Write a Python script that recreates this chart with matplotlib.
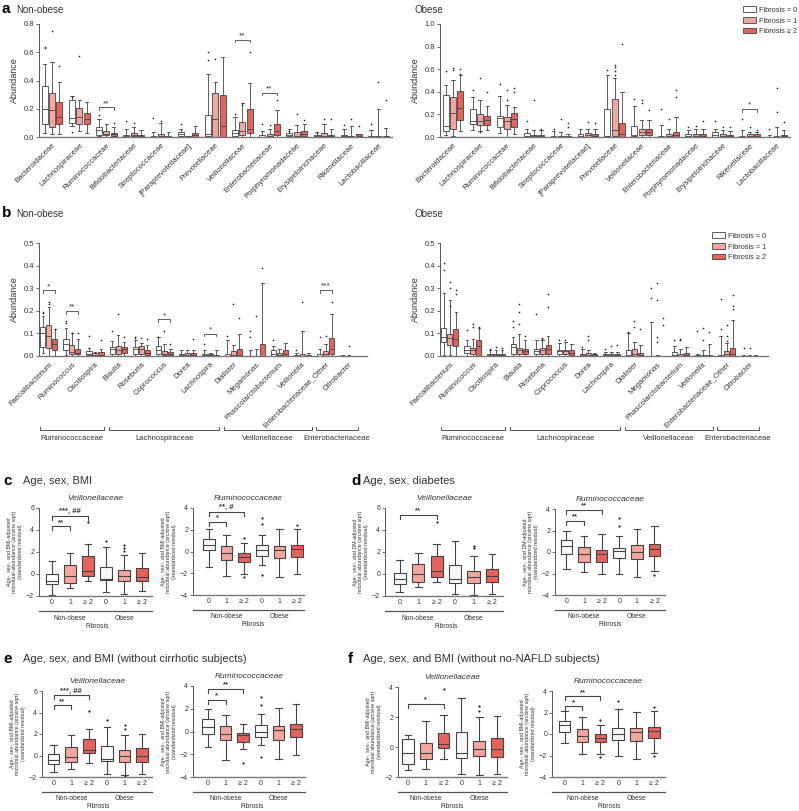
import matplotlib
matplotlib.use("Agg")
import matplotlib.pyplot as plt
from matplotlib.patches import Patch

plt.rcParams['font.family'] = ['Liberation Sans', 'DejaVu Sans']

W, H = 799, 811
C0 = '#ffffff'
C1 = '#f4a59c'
C2 = '#e8625c'
EDGE = '#444444'
TXT = '#333333'

# ---------------- panel a: family abundance (whislo, q1, med, q3, whishi) ----------------
families = ['Bacteroidaceae', 'Lachnospiraceae', 'Ruminococcaceae', 'Bifidobacteriaceae',
            'Streptococcaceae', '[Paraprevotellaceae]', 'Prevotellaceae', 'Veillonellaceae',
            'Enterobacteriaceae', 'Porphyromonadaceae', 'Erysipelotrichaceae', 'Rikenellaceae',
            'Lactobacillaceae']

a_non_f0 = [(0.03, 0.095, 0.20, 0.36, 0.52), (0.075, 0.10, 0.135, 0.26, 0.29),
            (0.005, 0.017, 0.047, 0.07, 0.125), (0.0, 0.0, 0.005, 0.017, 0.06),
            (0.0, 0.0, 0.002, 0.007, 0.035), (0.0, 0.005, 0.02, 0.035, 0.06),
            (0.0, 0.005, 0.024, 0.155, 0.445), (0.0, 0.01, 0.03, 0.05, 0.14),
            (0.0, 0.0, 0.002, 0.012, 0.04), (0.0, 0.007, 0.015, 0.028, 0.055),
            (0.0, 0.0, 0.005, 0.017, 0.035), (0.0, 0.0, 0.005, 0.017, 0.06),
            (0.0, 0.0, 0.0, 0.005, 0.05)]
a_non_f0_out = [[0.64, 0.63], [0.285, 0.035], [0.155], [0.11], [0.135], [0.095], [0.6, 0.545],
                [0.16], [0.09], [0.04], [0.03], [0.085], [0.095]]
a_non_f1 = [(0.02, 0.07, 0.19, 0.31, 0.53), (0.04, 0.095, 0.145, 0.205, 0.26),
            (0.0, 0.012, 0.024, 0.04, 0.095), (0.0, 0.005, 0.015, 0.03, 0.07),
            (0.0, 0.0, 0.005, 0.02, 0.1), (0.0, 0.0, 0.002, 0.005, 0.01),
            (0.0, 0.0, 0.13, 0.31, 0.39), (0.0, 0.012, 0.043, 0.105, 0.24),
            (0.0, 0.0, 0.005, 0.02, 0.055), (0.0, 0.0, 0.01, 0.035, 0.085),
            (0.0, 0.0, 0.01, 0.03, 0.09), (0.0, 0.0, 0.002, 0.005, 0.075),
            (0.0, 0.0, 0.002, 0.005, 0.2)]
a_non_f1_out = [[0.75], [0.57], [], [0.1], [0.11], [], [0.55], [0.23], [0.085], [0.165], [0.13],
                [0.125], [0.39]]
a_non_f2 = [(0.02, 0.095, 0.14, 0.25, 0.39), (0.03, 0.09, 0.125, 0.17, 0.245),
            (0.0, 0.007, 0.02, 0.03, 0.07), (0.0, 0.0, 0.005, 0.017, 0.05),
            (0.0, 0.0, 0.002, 0.005, 0.035), (0.0, 0.0, 0.015, 0.03, 0.075),
            (0.0, 0.0, 0.075, 0.30, 0.565), (0.0, 0.03, 0.06, 0.20, 0.38),
            (0.0, 0.012, 0.04, 0.09, 0.19), (0.0, 0.005, 0.02, 0.04, 0.09),
            (0.0, 0.0, 0.005, 0.017, 0.055), (0.0, 0.0, 0.005, 0.02, 0.02),
            (0.0, 0.0, 0.0, 0.005, 0.065)]
a_non_f2_out = [[0.505], [], [0.1], [], [], [], [], [0.605], [0.26], [0.12], [0.13], [0.075], [0.26]]
a_non_sig = [(2, '**', 0.21), (7, '**', 0.69), (8, '**', 0.315)]

a_ob_f0 = [(0.015, 0.053, 0.095, 0.37, 0.46), (0.065, 0.113, 0.142, 0.25, 0.356),
           (0.035, 0.09, 0.17, 0.19, 0.365), (0.0, 0.0, 0.01, 0.039, 0.074),
           (0.0, 0.0, 0.003, 0.01, 0.053), (0.0, 0.0, 0.01, 0.03, 0.074),
           (0.0, 0.006, 0.01, 0.25, 0.55), (0.0, 0.006, 0.02, 0.095, 0.27),
           (0.0, 0.0, 0.002, 0.006, 0.11), (0.0, 0.0, 0.008, 0.024, 0.06),
           (0.0, 0.0, 0.015, 0.04, 0.074), (0.0, 0.0, 0.002, 0.006, 0.06),
           (0.0, 0.0, 0.0, 0.004, 0.02)]
a_ob_f0_out = [[0.58], [0.42], [0.47], [0.14], [0.074], [], [0.59], [0.34], [0.25], [0.09], [0.14],
               [0.16], [0.074]]
a_ob_f1 = [(0.01, 0.074, 0.21, 0.356, 0.505), (0.053, 0.104, 0.142, 0.2, 0.33),
           (0.0, 0.074, 0.14, 0.18, 0.28), (0.0, 0.0, 0.005, 0.02, 0.065),
           (0.0, 0.0, 0.002, 0.008, 0.045), (0.0, 0.0, 0.015, 0.035, 0.074),
           (0.0, 0.006, 0.06, 0.34, 0.52), (0.0, 0.015, 0.045, 0.074, 0.15),
           (0.0, 0.0, 0.01, 0.024, 0.074), (0.0, 0.0, 0.012, 0.03, 0.074),
           (0.0, 0.0, 0.01, 0.024, 0.06), (0.0, 0.0, 0.01, 0.024, 0.045),
           (0.0, 0.0, 0.003, 0.01, 0.09)]
a_ob_f1_out = [[0.61, 0.59], [0.525, 0.045], [0.415, 0.33], [0.33], [0.16], [0.13],
               [0.64, 0.62, 0.58, 0.55], [0.326, 0.3], [0.16], [0.1], [0.09], [0.09], [0.43, 0.22]]
a_ob_f2 = [(0.05, 0.148, 0.26, 0.405, 0.55), (0.06, 0.11, 0.148, 0.184, 0.27),
           (0.03, 0.09, 0.163, 0.21, 0.267), (0.0, 0.0, 0.005, 0.02, 0.06),
           (0.0, 0.0, 0.002, 0.005, 0.03), (0.0, 0.0, 0.012, 0.03, 0.074),
           (0.0, 0.0, 0.03, 0.125, 0.40), (0.0, 0.015, 0.045, 0.074, 0.15),
           (0.0, 0.0, 0.015, 0.045, 0.18), (0.0, 0.0, 0.012, 0.03, 0.074),
           (0.0, 0.0, 0.008, 0.02, 0.055), (0.0, 0.0, 0.01, 0.024, 0.045),
           (0.0, 0.0, 0.005, 0.02, 0.06)]
a_ob_f2_out = [[0.6, 0.56], [0.4], [0.43, 0.4], [0.074], [0.12, 0.09], [0.12], [0.82], [0.24],
               [0.415, 0.356], [0.14], [0.09], [0.06], [0.13]]
a_ob_sig = [(11, '*', 0.25)]

# ---------------- panel b: genus abundance ----------------
genera = ['Faecalibacterium', 'Ruminococcus', 'Oscillospira', 'Blautia', 'Roseburia',
          'Coprococcus', 'Dorea', 'Lachnospira', 'Dialister', 'Megamonas',
          'Phascolarctobacterium', 'Veillonella', 'Enterobacteriaceae_Other', 'Citrobacter']
genus_families = [('Ruminococcaceae', 0, 2), ('Lachnospiraceae', 3, 7),
                  ('Veillonellaceae', 8, 11), ('Enterobacteriaceae', 12, 13)]

b_non_f0 = [(0.013, 0.04, 0.102, 0.128, 0.175), (0.003, 0.025, 0.052, 0.077, 0.125),
            (0.0, 0.003, 0.008, 0.02, 0.035), (0.0, 0.01, 0.03, 0.04, 0.066),
            (0.0, 0.01, 0.03, 0.04, 0.07), (0.0, 0.01, 0.025, 0.043, 0.084),
            (0.0, 0.0, 0.005, 0.01, 0.025), (0.0, 0.0, 0.004, 0.01, 0.025),
            (0.0, 0.0, 0.002, 0.01, 0.07), (0.0, 0.0, 0.0, 0.0, 0.025),
            (0.0, 0.0, 0.01, 0.025, 0.043), (0.0, 0.0, 0.0, 0.003, 0.013),
            (0.0, 0.0, 0.002, 0.01, 0.032), (0.0, 0.0, 0.0, 0.0, 0.005)]
b_non_f0_out = [[0.195, 0.19], [0.155, 0.145], [0.088], [0.11], [0.084, 0.08], [0.084], [],
                [0.052], [0.088], [0.11, 0.084], [0.07], [0.028], [0.084], []]
b_non_f1 = [(0.0, 0.037, 0.09, 0.136, 0.217), (0.0, 0.007, 0.018, 0.047, 0.1),
            (0.0, 0.0, 0.005, 0.015, 0.018), (0.0, 0.01, 0.025, 0.043, 0.094),
            (0.0, 0.01, 0.03, 0.043, 0.058), (0.0, 0.003, 0.01, 0.02, 0.055),
            (0.0, 0.0, 0.005, 0.013, 0.028), (0.0, 0.0, 0.003, 0.01, 0.015),
            (0.0, 0.0, 0.005, 0.02, 0.047), (0.0, 0.0, 0.0, 0.0, 0.032),
            (0.0, 0.0, 0.005, 0.013, 0.03), (0.0, 0.0, 0.002, 0.01, 0.11),
            (0.0, 0.0, 0.008, 0.022, 0.055), (0.0, 0.0, 0.0, 0.0, 0.003)]
b_non_f1_out = [[0.24, 0.23], [0.1], [], [0.185], [0.08], [0.11], [], [], [0.228], [0.175], [],
                [0.24], [0.087], [0.043]]
b_non_f2 = [(0.0, 0.025, 0.052, 0.074, 0.12), (0.0, 0.007, 0.015, 0.032, 0.077),
            (0.0, 0.0, 0.005, 0.018, 0.032), (0.0, 0.015, 0.03, 0.04, 0.062),
            (0.0, 0.006, 0.015, 0.025, 0.047), (0.0, 0.003, 0.008, 0.018, 0.03),
            (0.0, 0.0, 0.005, 0.013, 0.025), (0.0, 0.0, 0.002, 0.005, 0.025),
            (0.0, 0.0, 0.005, 0.03, 0.099), (0.0, 0.0, 0.0, 0.052, 0.323),
            (0.0, 0.0, 0.01, 0.028, 0.058), (0.0, 0.0, 0.001, 0.005, 0.013),
            (0.0, 0.01, 0.032, 0.081, 0.187), (0.0, 0.0, 0.0, 0.0, 0.0)]
b_non_f2_out = [[0.12], [0.1], [0.07], [0.084], [0.077], [0.052], [0.074], [], [0.168], [0.39],
                [], [], [0.24], []]
b_non_sig = [(0, '*', 0.29), (1, '**', 0.2), (5, '*', 0.162), (7, '*', 0.099), (12, '***', 0.293)]

b_ob_f0 = [(0.005, 0.062, 0.084, 0.125, 0.279), (0.0, 0.013, 0.025, 0.043, 0.07),
           (0.0, 0.002, 0.005, 0.01, 0.028), (0.0, 0.01, 0.04, 0.052, 0.084),
           (0.0, 0.01, 0.02, 0.032, 0.07), (0.0, 0.01, 0.02, 0.028, 0.058),
           (0.0, 0.002, 0.005, 0.01, 0.032), (0.0, 0.0, 0.004, 0.008, 0.018),
           (0.0, 0.0, 0.005, 0.025, 0.1), (0.0, 0.0, 0.0, 0.0, 0.15),
           (0.0, 0.0, 0.005, 0.018, 0.043), (0.0, 0.0, 0.0, 0.003, 0.008),
           (0.0, 0.0, 0.0, 0.004, 0.09), (0.0, 0.0, 0.0, 0.002, 0.005)]
b_ob_f0_out = [[0.41, 0.38], [0.117], [0.03], [0.153, 0.13], [0.187], [0.07], [0.04], [0.032],
               [0.106], [0.3, 0.258], [0.07], [0.11], [0.254, 0.12], [0.037]]
b_ob_f1 = [(0.005, 0.05, 0.08, 0.099, 0.246), (0.0, 0.01, 0.025, 0.037, 0.077),
           (0.0, 0.002, 0.005, 0.01, 0.028), (0.0, 0.01, 0.025, 0.037, 0.096),
           (0.0, 0.01, 0.025, 0.037, 0.07), (0.0, 0.01, 0.02, 0.028, 0.062),
           (0.0, 0.0, 0.005, 0.013, 0.025), (0.0, 0.0, 0.004, 0.008, 0.018),
           (0.0, 0.0, 0.008, 0.03, 0.062), (0.0, 0.0, 0.0, 0.0, 0.005),
           (0.0, 0.0, 0.002, 0.01, 0.032), (0.0, 0.0, 0.0, 0.005, 0.025),
           (0.0, 0.0, 0.008, 0.022, 0.058), (0.0, 0.0, 0.0, 0.002, 0.005)]
b_ob_f1_out = [[0.327, 0.3, 0.22], [0.14, 0.13], [0.04], [0.23, 0.195, 0.14], [0.08, 0.075], [0.07],
               [0.087, 0.07], [0.043], [0.155, 0.13], [0.323, 0.25, 0.084, 0.062], [0.077, 0.07],
               [0.125, 0.07], [0.136, 0.09, 0.065], [0.037]]
b_ob_f2 = [(0.0, 0.043, 0.077, 0.12, 0.195), (0.0, 0.0, 0.043, 0.072, 0.125),
           (0.0, 0.002, 0.005, 0.01, 0.028), (0.0, 0.01, 0.02, 0.032, 0.07),
           (0.0, 0.01, 0.032, 0.047, 0.09), (0.0, 0.006, 0.015, 0.025, 0.052),
           (0.0, 0.002, 0.005, 0.01, 0.015), (0.0, 0.0, 0.004, 0.008, 0.018),
           (0.0, 0.0, 0.004, 0.015, 0.047), (0.0, 0.0, 0.0, 0.0, 0.0),
           (0.0, 0.0, 0.005, 0.015, 0.04), (0.0, 0.0, 0.0, 0.004, 0.052),
           (0.0, 0.0, 0.01, 0.037, 0.158), (0.0, 0.0, 0.0, 0.002, 0.005)]
b_ob_f2_out = [[0.29, 0.275], [0.13], [0.035], [0.088], [0.275, 0.216], [], [], [0.047], [0.12],
               [0.17, 0.135], [], [0.106], [0.27, 0.22, 0.21], []]

# ---------------- panels c-f: adjusted residuals (6 boxes: non-obese 0,1,>=2, obese 0,1,>=2) ----------------
c_veil = [(-1.9, -0.9, -0.6, 0.0, 1.2), (-1.28, -0.82, -0.2, 0.82, 1.9), (-0.67, -0.15, 0.25, 1.67, 2.75),
          (-1.67, -0.55, -0.45, 0.67, 2.5), (-1.8, -0.6, -0.2, 0.4, 1.76), (-1.5, -0.6, -0.25, 0.52, 1.9)]
c_veil_out = [[], [], [4.7], [3.0], [2.6, 2.37, 2.13], []]
c_veil_sig = [(0, 1, 4.35, '**'), (0, 2, 5.3, '***, ##')]
c_rum = [(-1.4, 0.15, 0.58, 1.13, 2.05), (-2.23, -0.8, -0.18, 0.52, 1.53), (-2.08, -0.92, -0.49, -0.18, 0.76),
         (-1.22, -0.4, 0.12, 0.58, 1.53), (-2.38, -0.64, 0.12, 0.52, 2.1), (-2.08, -0.49, 0.27, 0.58, 2.05)]
c_rum_out = [[], [], [1.28, -2.3], [3.05, 2.5, -2.17], [], [2.4]]
c_rum_sig = [(0, 1, 2.72, '*'), (0, 2, 3.66, '**, #')]

d_veil = [(-1.6, -0.87, -0.42, 0.12, 1.23), (-1.14, -0.72, -0.03, 0.93, 1.92), (-0.72, -0.24, 0.27, 1.68, 2.73),
          (-1.83, -0.78, -0.42, 0.78, 3.03), (-1.92, -0.78, -0.24, 0.24, 1.68), (-1.83, -0.69, -0.18, 0.48, 1.83)]
d_veil_out = [[], [], [4.77], [], [2.52, 2.35], []]
d_veil_sig = [(0, 2, 5.38, '**')]
d_rum = [(-1.57, -0.19, 0.59, 1.14, 1.98), (-1.88, -0.93, -0.19, 0.46, 1.45), (-2.04, -0.93, -0.15, 0.22, 1.67),
         (-2.0, -0.56, 0.06, 0.37, 1.51), (-2.31, -0.65, 0.0, 0.68, 2.13), (-1.73, -0.34, 0.28, 0.74, 2.38)]
d_rum_out = [[], [], [], [3.15, 2.38], [], [-2.16]]
d_rum_sig = [(0, 1, 2.9, '**'), (0, 2, 3.9, '**')]

e_veil = [(-1.58, -0.78, -0.4, 0.12, 1.0), (-1.24, -0.62, -0.16, 0.78, 1.93), (-0.71, 0.22, 0.53, 1.55, 2.48),
          (-1.74, -0.5, -0.31, 0.84, 2.64), (-1.8, -0.56, -0.09, 0.47, 1.93), (-1.74, -0.56, -0.09, 0.68, 2.02)]
e_veil_out = [[], [], [4.16], [3.32], [2.8, 2.45, -1.9], []]
e_veil_sig = [(0, 1, 4.66, '**'), (0, 2, 5.59, '***, ##')]
e_rum = [(-1.38, -0.2, 0.38, 1.11, 2.0), (-2.49, -0.73, -0.2, 0.44, 1.47), (-1.52, -0.88, -0.35, -0.12, 0.62),
         (-1.23, -0.5, 0.0, 0.53, 1.5), (-2.46, -0.73, 0.09, 0.47, 2.08), (-2.05, -0.5, 0.23, 0.67, 2.38)]
e_rum_out = [[], [], [-2.79], [3.0, 2.29, -2.26], [], []]
e_rum_sig = [(0, 1, 2.8, '*'), (0, 2, 3.75, '**')]

f_veil = [(-1.56, -1.11, -0.38, 0.56, 0.78), (-1.44, -0.78, -0.4, 0.29, 1.73), (-0.78, -0.07, 0.22, 0.96, 2.16),
          (-1.78, -0.73, -0.38, 1.0, 3.29), (-1.89, -0.6, -0.11, 0.4, 2.0), (-1.82, -0.67, -0.11, 0.6, 2.04)]
f_veil_out = [[], [], [3.84], [], [2.71, 2.38], []]
f_veil_sig = [(0, 2, 2.89, '*')]
f_rum = [(-0.86, 0.22, 0.83, 1.23, 2.12), (-1.85, -0.71, -0.15, 0.43, 1.6), (-1.85, -0.77, -0.34, 0.0, 0.83),
         (-2.09, -0.55, -0.03, 0.58, 2.3), (-2.34, -0.65, 0.22, 0.58, 2.06), (-1.78, -0.4, 0.31, 0.62, 2.15)]
f_rum_out = [[], [], [1.29, -2.18], [3.05], [], [2.52, -2.09]]
f_rum_sig = [(0, 1, 2.58, '*'), (0, 2, 3.5, '**')]

fib_ticks = ['0', '1', '\u2265 2', '0', '1', '\u2265 2']


fig = plt.figure(figsize=(W / 100, H / 100), dpi=100)


def px_axes(x0, x1, y0, y1):
    # pixel box (left, right, top, bottom) -> figure axes
    return fig.add_axes([x0 / W, 1 - y1 / H, (x1 - x0) / W, (y1 - y0) / H])


def ftext(x, y, s, **kw):
    kw.setdefault('color', TXT)
    fig.text(x / W, 1 - y / H, s, va='center', **kw)


def to_stats(rows, outs):
    return [dict(whislo=r[0], q1=r[1], med=r[2], q3=r[3], whishi=r[4], fliers=o)
            for r, o in zip(rows, outs)]


def boxes(ax, rows, outs, positions, width, colors, lw=0.6, ms=1.2):
    res = ax.bxp(to_stats(rows, outs), positions=positions, widths=width, patch_artist=True,
                 capwidths=width * 0.55, manage_ticks=False,
                 boxprops=dict(edgecolor=EDGE, linewidth=lw),
                 medianprops=dict(color=EDGE, linewidth=lw),
                 whiskerprops=dict(color=EDGE, linewidth=lw),
                 capprops=dict(color=EDGE, linewidth=lw),
                 flierprops=dict(marker='o', markersize=ms, markerfacecolor='#222222',
                                 markeredgecolor='none'))
    for patch, col in zip(res['boxes'], colors):
        patch.set_facecolor(col)


def style_axes(ax, fs):
    for side in ('top', 'right'):
        ax.spines[side].set_visible(False)
    ax.spines['left'].set_color('#555555')
    ax.spines['bottom'].set_color('#777777')
    ax.spines['left'].set_linewidth(0.7)
    ax.spines['bottom'].set_linewidth(1.0)
    ax.tick_params(axis='y', labelsize=fs, length=2, width=0.6, pad=1.5, colors='#555555',
                   labelcolor=TXT)
    ax.tick_params(axis='x', length=0, labelsize=fs, labelcolor=TXT)


def abundance_panel(ax, cats, f0, f1, f2, o0, o1, o2, ylim, yticks, sigs, off, bw, xfs):
    n = len(cats)
    x = list(range(n))
    boxes(ax, f0, o0, [i - off for i in x], bw, [C0] * n)
    boxes(ax, f1, o1, x, bw, [C1] * n)
    boxes(ax, f2, o2, [i + off for i in x], bw, [C2] * n)
    ax.set_xlim(-0.48, n - 0.5)
    ax.set_ylim(*ylim)
    ax.set_yticks(yticks)
    ax.set_yticklabels(['%.1f' % t for t in yticks])
    ax.set_xticks(x)
    ax.set_xticklabels(cats, rotation=45, ha='right', rotation_mode='anchor', fontsize=xfs)
    ax.set_ylabel('Abundance', fontsize=6.5, color=TXT, labelpad=3)
    style_axes(ax, 5.5)
    drop = (ylim[1] - ylim[0]) * 0.025
    for g, lab, y in sigs:
        ax.plot([g - off, g - off, g + off, g + off], [y - drop, y, y, y - drop],
                color=EDGE, lw=0.6, clip_on=False)
        ax.text(g, y, lab, ha='center', va='bottom', fontsize=6, color=TXT)


leg_handles = [Patch(facecolor=c, edgecolor=EDGE, linewidth=0.6, label=l)
               for c, l in zip([C0, C1, C2], ['Fibrosis = 0', 'Fibrosis = 1', 'Fibrosis \u2265 2'])]
leg_kw = dict(handles=leg_handles, loc='upper left', frameon=False, fontsize=5.3, handlelength=1.7,
              handleheight=0.8, handletextpad=0.4, labelspacing=0.45, borderpad=0.2,
              borderaxespad=0, labelcolor=TXT)

# ----- a -----
ftext(2, 9, 'a', fontsize=11, fontweight='bold', color='black')
ftext(16, 10, 'Non-obese', fontsize=7)
ftext(415, 10, 'Obese', fontsize=7)
ax = px_axes(39, 392, 24, 137)
abundance_panel(ax, families, a_non_f0, a_non_f1, a_non_f2, a_non_f0_out, a_non_f1_out, a_non_f2_out,
                (0, 0.8), [0, 0.2, 0.4, 0.6, 0.8], a_non_sig, 0.27, 0.22, 5.5)
ax = px_axes(440, 790, 24, 137)
abundance_panel(ax, families, a_ob_f0, a_ob_f1, a_ob_f2, a_ob_f0_out, a_ob_f1_out, a_ob_f2_out,
                (0, 1.0), [0, 0.2, 0.4, 0.6, 0.8, 1.0], a_ob_sig, 0.27, 0.22, 5.5)
fig.legend(bbox_to_anchor=(742 / W, 1 - 5 / H), **leg_kw)

# ----- b -----
ftext(2, 213, 'b', fontsize=11, fontweight='bold', color='black')
ftext(16, 214, 'Non-obese', fontsize=7)
ftext(415, 214, 'Obese', fontsize=7)
for x0, x1, f0, f1, f2, o0, o1, o2, sigs in [
        (39, 367, b_non_f0, b_non_f1, b_non_f2, b_non_f0_out, b_non_f1_out, b_non_f2_out, b_non_sig),
        (440, 768, b_ob_f0, b_ob_f1, b_ob_f2, b_ob_f0_out, b_ob_f1_out, b_ob_f2_out, [])]:
    ax = px_axes(x0, x1, 243, 356)
    abundance_panel(ax, genera, f0, f1, f2, o0, o1, o2, (0, 0.5), [0, 0.1, 0.2, 0.3, 0.4, 0.5],
                    sigs, 0.26, 0.22, 5.8)
    ax.set_xlim(-0.43, 13.8)
    tr = ax.get_xaxis_transform()
    for name, i0, i1 in genus_families:
        ax.plot([i0 - 0.4, i0 - 0.4, i1 + 0.4, i1 + 0.4], [-0.63, -0.655, -0.655, -0.63],
                transform=tr, color='#555555', lw=0.7, clip_on=False)
        ax.text((i0 + i1) / 2, -0.73, name, transform=tr, ha='center', va='center',
                fontsize=5.5, color=TXT)
fig.legend(bbox_to_anchor=(711 / W, 1 - 231 / H), **leg_kw)


# ----- c-f -----
def residual_panel(box_px, rows, outs, sigs, ylim, yticks, title, adj, xlim):
    x0, x1, y0, y1 = box_px
    ax = px_axes(x0, x1, y0, y1)
    h = y1 - y0
    boxes(ax, rows, outs, list(range(6)), 0.66, [C0, C1, C2, '#f8f8f8', C1, C2], lw=0.8, ms=1.6)
    ax.set_xlim(*xlim)
    ax.set_ylim(*ylim)
    ax.set_yticks(yticks)
    ax.set_xticks(range(6))
    ax.set_xticklabels(fib_ticks)
    style_axes(ax, 5)
    ax.tick_params(axis='x', pad=2)
    ax.set_title(title, fontsize=6, style='italic', color=TXT, pad=6)
    ax.set_ylabel('Age-, sex-, and %s-adjusted\nmicrobial abundance (arcsine sqrt)\n(standardized residual)'
                  % adj, fontsize=3.8, color=TXT, labelpad=2, linespacing=1.2)
    drop = (ylim[1] - ylim[0]) * 0.045
    for i, j, y, lab in sigs:
        ax.plot([i, i, j, j], [y - drop, y, y, y - drop], color=EDGE, lw=0.8, clip_on=False)
        ax.text((i + j) / 2, y + drop * 0.1, lab, ha='center', va='bottom', fontsize=5.5,
                fontweight='bold', color=TXT)
    ax.plot([0, 1], [-15 / h, -15 / h], transform=ax.transAxes, color='#555555', lw=0.9,
            clip_on=False)
    tr = ax.get_xaxis_transform()
    ax.text(1, -22 / h, 'Non-obese', transform=tr, ha='center', va='center', fontsize=4.8, color=TXT)
    ax.text(4, -22 / h, 'Obese', transform=tr, ha='center', va='center', fontsize=4.8, color=TXT)
    ax.text(2.5, -30 / h, 'Fibrosis', transform=tr, ha='center', va='center', fontsize=4.8, color=TXT)
    return ax


ftext(3, 481, 'c', fontsize=11, fontweight='bold', color='black')
ftext(23, 481, 'Age, sex, BMI', fontsize=8)
residual_panel((39, 152, 508, 596), c_veil, c_veil_out, c_veil_sig, (-2, 6), [-2, 0, 2, 4, 6],
               'Veillonellaceae', 'BMI', (-0.72, 5.55))
residual_panel((193, 304, 508, 595), c_rum, c_rum_out, c_rum_sig, (-4, 4), [-4, -2, 0, 2, 4],
               'Ruminococcaceae', 'BMI', (-0.9, 5.4))

ftext(351, 481, 'd', fontsize=11, fontweight='bold', color='black')
ftext(363, 481, 'Age, sex, diabetes', fontsize=8)
residual_panel((385, 503, 508, 596), d_veil, d_veil_out, d_veil_sig, (-2, 6), [-2, 0, 2, 4, 6],
               'Veillonellaceae', 'DM', (-0.8, 5.6))
residual_panel((555, 665, 509, 595), d_rum, d_rum_out, d_rum_sig, (-4, 4), [-4, -2, 0, 2, 4],
               'Ruminococcaceae', 'DM', (-0.65, 5.6))

ftext(3, 659, 'e', fontsize=11, fontweight='bold', color='black')
ftext(23, 659, 'Age, sex, and BMI (without cirrhotic subjects)', fontsize=8)
residual_panel((42, 152, 691, 777), e_veil, e_veil_out, e_veil_sig, (-2, 6), [-2, 0, 2, 4, 6],
               'Veillonellaceae', 'BMI', (-0.65, 5.55))
residual_panel((193, 305, 686, 777), e_rum, e_rum_out, e_rum_sig, (-4, 4), [-4, -2, 0, 2, 4],
               'Ruminococcaceae', 'BMI', (-0.85, 5.5))

ftext(348, 659, 'f', fontsize=11, fontweight='bold', color='black')
ftext(363, 659, 'Age, sex, and BMI (without no-NAFLD subjects)', fontsize=8)
residual_panel((398, 507, 687, 777), f_veil, f_veil_out, f_veil_sig, (-2, 4), [-2, 0, 2, 4],
               'Veillonellaceae', 'BMI', (-0.55, 5.55))
residual_panel((552, 665, 691, 777), f_rum, f_rum_out, f_rum_sig, (-4, 4), [-4, -2, 0, 2, 4],
               'Ruminococcaceae', 'BMI', (-0.7, 5.6))

fig.savefig('out.png', dpi=100)
